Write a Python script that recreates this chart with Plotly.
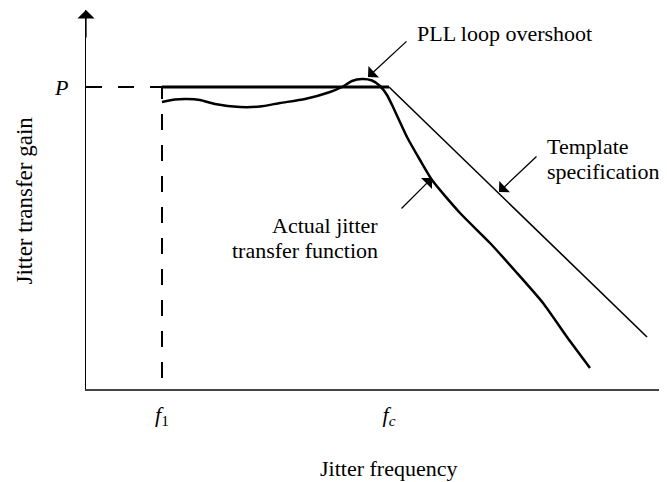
import plotly.graph_objects as go

# --- data (frequency / gain in arbitrary units) ---
P = 30.2
f1 = 7.6
fc = 30.3

template_flat_x = [f1, fc]
template_flat_y = [P, P]
template_slope_x = [fc, 56.1]
template_slope_y = [P, 5.2]

actual_x = [7.6, 8.9, 10.1, 11.4, 12.9, 15.4, 17.4, 19.4, 21.9, 24.4, 25.6,
            26.6, 27.6, 28.6, 29.4, 30.1, 30.7, 32.1, 33.4, 34.6, 37.4, 40.4,
            43.1, 45.7, 48.1, 50.4]
actual_y = [28.7, 28.95, 29.0, 28.9, 28.5, 28.2, 28.25, 28.6, 29.0, 29.7, 30.2,
            30.8, 31.0, 30.85, 30.3, 29.4, 28.2, 25.2, 22.9, 20.9, 17.6, 14.6,
            11.6, 8.6, 5.2, 2.1]

tick_x = [f1, fc]
tick_x_text = ["<i>f</i><sub>1</sub>", "<i>f<sub>c</sub></i>"]

FONT = "Liberation Serif, Times New Roman, serif"

fig = go.Figure()

# reference dashed lines from P and f1
fig.add_trace(go.Scatter(x=[0, f1], y=[P, P], mode="lines",
                         line=dict(color="black", width=2, dash="16px,16px")))
fig.add_trace(go.Scatter(x=[f1, f1], y=[1.1, P], mode="lines",
                         line=dict(color="black", width=2, dash="16px,15px")))

# template
fig.add_trace(go.Scatter(x=template_flat_x, y=template_flat_y, mode="lines",
                         line=dict(color="black", width=3)))
fig.add_trace(go.Scatter(x=template_slope_x, y=template_slope_y, mode="lines",
                         line=dict(color="black", width=1.6)))

# actual jitter transfer
fig.add_trace(go.Scatter(x=actual_x, y=actual_y, mode="lines",
                         line=dict(color="black", width=2.5, shape="spline", smoothing=0.6)))

# y axis arrow head
fig.add_annotation(x=0, y=37.9, ax=0, ay=35, xref="x", yref="y", axref="x", ayref="y",
                   showarrow=True, arrowhead=1, arrowsize=2.2, arrowwidth=1.3,
                   arrowcolor="black", text="")

arrow = dict(xref="x", yref="y", axref="x", ayref="y", showarrow=True, arrowhead=1,
             arrowsize=2.0, arrowwidth=1.3, arrowcolor="black", text="")
fig.add_annotation(x=28.2, y=31.2, ax=32.2, ay=34.9, **arrow)
fig.add_annotation(x=41.3, y=19.7, ax=45.2, ay=23.4, **arrow)
fig.add_annotation(x=34.6, y=21.1, ax=31.4, ay=17.9, **arrow)

# labels
lbl = dict(showarrow=False, yanchor="middle")
fig.add_annotation(x=32.9, y=35.6, text="PLL loop overshoot", xanchor="left", **lbl)
fig.add_annotation(x=45.9, y=24.3, text="Template", xanchor="left", **lbl)
fig.add_annotation(x=45.9, y=21.8, text="specification", xanchor="left", **lbl)
fig.add_annotation(x=29.4, y=16.4, text="Actual jitter", xanchor="right", **lbl)
fig.add_annotation(x=29.4, y=13.9, text="transfer function", xanchor="right", **lbl)
fig.add_annotation(x=0.52, y=-0.211, xref="paper", yref="paper", text="Jitter frequency",
                   xanchor="center", **lbl)
fig.add_annotation(x=-0.1067, y=0.4974, xref="paper", yref="paper", text="Jitter transfer gain",
                   textangle=-90, xanchor="center", font=dict(size=23), **lbl)

fig.update_xaxes(range=[0, 58.1], showline=True, linecolor="#444", linewidth=2.3,
                 showgrid=False, zeroline=False, tickvals=tick_x, ticktext=tick_x_text,
                 ticks="", ticklabelstandoff=4, fixedrange=True)
fig.update_yaxes(range=[0, 37.9], showline=True, linecolor="black", linewidth=1.3,
                 showgrid=False, zeroline=False, tickvals=[P], ticktext=["<i>P</i>"],
                 ticks="", ticklabelstandoff=12, fixedrange=True)

# page body has an 8px margin, so the figure is trimmed to land on the window
fig.update_layout(
    width=659, height=474,
    margin=dict(l=78, r=0, t=2, b=93, autoexpand=False),
    paper_bgcolor="white", plot_bgcolor="white",
    showlegend=False,
    font=dict(family=FONT, size=22, color="black"),
)

fig.write_html("out.html")
